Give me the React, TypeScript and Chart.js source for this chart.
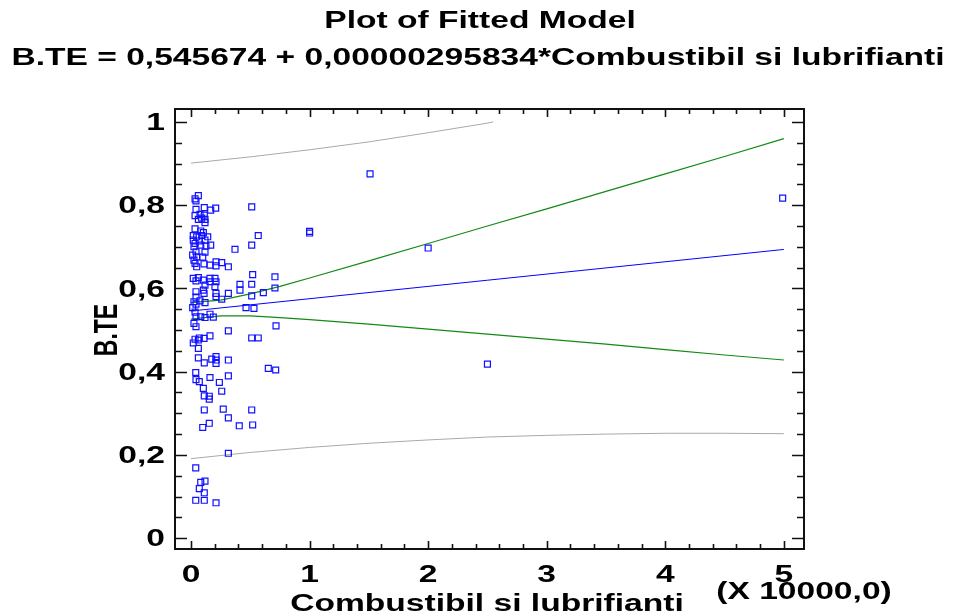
import React, { useEffect, useRef } from 'react';
import { Chart, registerables } from 'chart.js';

Chart.register(...registerables);

const W = 966;
const H = 613;
const FONT = '"Liberation Sans", Arial, sans-serif';
const FS = 23;
const SX = 1.46;

const titleLines = ['Plot of Fitted Model', 'B.TE = 0,545674 + 0,00000295834*Combustibil si lubrifianti'];
const xAxisTitle = 'Combustibil si lubrifianti';
const xAxisNote = '(X 10000,0)';
const yAxisTitle = 'B.TE';

const xTickValues = [0, 1, 2, 3, 4, 5];
const xTickLabels = ['0', '1', '2', '3', '4', '5'];
const yTickValues = [0, 0.2, 0.4, 0.6, 0.8, 1];
const yTickLabels = ['0', '0,2', '0,4', '0,6', '0,8', '1'];
const xMinorTicks = [0.2, 0.4, 0.6, 0.8, 1.2, 1.4, 1.6, 1.8, 2.2, 2.4, 2.6, 2.8, 3.2, 3.4, 3.6, 3.8, 4.2, 4.4, 4.6, 4.8];
const yMinorTicks = [0.05, 0.1, 0.15, 0.25, 0.3, 0.35, 0.45, 0.5, 0.55, 0.65, 0.7, 0.75, 0.85, 0.9, 0.95];

// observations (Combustibil si lubrifianti in units of 10000, B.TE)
const obsX = [
  0.062, 0.034, 0.042, 0.512, 0.042, 0.112, 0.166, 0.208, 0.034, 0.076, 0.112, 0.062, 0.090, 0.118, 0.118,
  0.034, 0.082, 0.104, 0.019, 0.048, 0.090, 0.141, 0.567, 0.019, 0.070, 0.118, 0.034, 0.082, 0.126, 0.166,
  0.512, 0.371, 0.025, 0.042, 0.118, 0.014, 0.048, 0.099, 0.025, 0.034, 0.110, 0.160, 0.211, 0.259, 0.211,
  0.315, 0.048, 0.019, 0.062, 0.042, 0.104, 0.160, 0.202, 0.160, 0.211, 0.413, 0.512, 0.708, 0.118, 0.202,
  0.104, 0.413, 0.042, 0.110, 0.211, 0.315, 0.042, 0.211, 0.259, 0.512, 0.708, 0.025, 0.076, 0.118, 0.042,
  0.014, 0.464, 0.531, 0.034, 0.042, 0.082, 0.118, 0.160, 0.188, 0.025, 0.042, 0.717, 0.315, 0.034, 0.070,
  0.110, 0.160, 0.019, 0.062, 0.512, 0.567, 0.062, 0.062, 0.112, 0.175, 0.211, 0.211, 0.211, 0.315, 0.652,
  0.714, 0.040, 0.042, 0.070, 0.160, 0.239, 0.315, 0.104, 0.259, 0.112, 0.154, 0.154, 0.112, 0.272, 0.512,
  0.315, 0.154, 0.099, 0.407, 0.520, 0.315, 0.040, 0.082, 0.118, 0.070, 0.112, 0.040, 0.112, 0.211, 1.000,
  1.000, 1.510, 2.000, 2.500, 4.990, 0.520, 0.610,
];
const obsY = [
  0.823, 0.815, 0.810, 0.796, 0.790, 0.794, 0.788, 0.793, 0.775, 0.778, 0.776, 0.766, 0.769, 0.766, 0.758,
  0.743, 0.738, 0.734, 0.727, 0.724, 0.727, 0.724, 0.727, 0.716, 0.714, 0.716, 0.708, 0.704, 0.702, 0.704,
  0.704, 0.694, 0.700, 0.688, 0.687, 0.680, 0.676, 0.675, 0.668, 0.660, 0.659, 0.656, 0.664, 0.662, 0.654,
  0.652, 0.652, 0.624, 0.626, 0.618, 0.620, 0.624, 0.624, 0.616, 0.616, 0.610, 0.610, 0.628, 0.608, 0.604,
  0.596, 0.596, 0.592, 0.588, 0.588, 0.588, 0.579, 0.580, 0.574, 0.582, 0.601, 0.568, 0.570, 0.566, 0.562,
  0.554, 0.554, 0.552, 0.543, 0.532, 0.532, 0.530, 0.538, 0.531, 0.516, 0.508, 0.510, 0.498, 0.478, 0.481,
  0.480, 0.486, 0.469, 0.476, 0.481, 0.481, 0.456, 0.433, 0.421, 0.430, 0.436, 0.428, 0.420, 0.428, 0.408,
  0.404, 0.398, 0.381, 0.376, 0.386, 0.374, 0.390, 0.360, 0.353, 0.342, 0.341, 0.334, 0.308, 0.310, 0.308,
  0.289, 0.276, 0.266, 0.270, 0.272, 0.204, 0.169, 0.134, 0.137, 0.119, 0.109, 0.091, 0.091, 0.085, 0.737,
  0.733, 0.875, 0.697, 0.418, 0.817, 0.633, 0.590,
];

// fitted line
const fitX = [0, 5];
const fitY = [0.5457, 0.6936];

// confidence limits for the mean (green)
const confX = [0, 0.25, 0.5, 0.75, 1, 1.5, 2, 2.5, 3, 3.5, 4, 4.5, 5];
const confUpper = [0.566, 0.572, 0.587, 0.605, 0.625, 0.666, 0.708, 0.750, 0.791, 0.833, 0.875, 0.917, 0.960];
const confLower = [0.526, 0.534, 0.534, 0.530, 0.525, 0.514, 0.502, 0.490, 0.478, 0.466, 0.453, 0.440, 0.428];

// prediction limits (gray)
const predUpperX = [0, 0.5, 1, 1.5, 2, 2.5, 2.55];
const predUpperY = [0.901, 0.916, 0.933, 0.952, 0.974, 0.997, 1.0];
const predLowerX = [0, 0.5, 0.75, 1, 1.5, 2, 2.5, 3, 3.5, 4, 4.5, 5];
const predLowerY = [0.191, 0.206, 0.212, 0.218, 0.228, 0.236, 0.243, 0.247, 0.250, 0.252, 0.252, 0.251];

const zip = (xs: number[], ys: number[]) => xs.map((x, i) => ({ x, y: ys[i] }));

function drawText(
  ctx: CanvasRenderingContext2D,
  text: string,
  x: number,
  y: number,
  align: CanvasTextAlign,
  rotate = false,
) {
  ctx.save();
  ctx.font = `bold ${FS}px ${FONT}`;
  ctx.fillStyle = '#000';
  ctx.textAlign = align;
  ctx.textBaseline = 'alphabetic';
  ctx.translate(x, y);
  ctx.scale(SX, 1);
  if (rotate) ctx.rotate(-Math.PI / 2);
  ctx.fillText(text, 0, FS * 0.358);
  ctx.restore();
}

const decorPlugin = {
  id: 'decor',
  afterDraw(chart: any) {
    const ctx: CanvasRenderingContext2D = chart.ctx;
    const { left, right, top, bottom } = chart.chartArea;
    const xs = chart.scales.x;
    const ys = chart.scales.y;

    ctx.save();
    ctx.strokeStyle = '#111';
    ctx.lineWidth = 2;
    ctx.strokeRect(left, top, right - left, bottom - top);

    ctx.lineWidth = 1.6;
    ctx.beginPath();
    const xTick = (v: number, len: number) => {
      const px = Math.round(xs.getPixelForValue(v)) + 0.5;
      ctx.moveTo(px, bottom);
      ctx.lineTo(px, bottom - len);
      ctx.moveTo(px, top);
      ctx.lineTo(px, top + len);
    };
    const yTick = (v: number, len: number) => {
      const py = Math.round(ys.getPixelForValue(v)) + 0.5;
      ctx.moveTo(left, py);
      ctx.lineTo(left + len, py);
      ctx.moveTo(right, py);
      ctx.lineTo(right - len, py);
    };
    xTickValues.forEach((v) => xTick(v, 8));
    xMinorTicks.forEach((v) => xTick(v, 5));
    yTickValues.forEach((v) => yTick(v, 12));
    yMinorTicks.forEach((v) => yTick(v, 7));
    ctx.stroke();
    ctx.restore();

    xTickValues.forEach((v, i) => drawText(ctx, xTickLabels[i], xs.getPixelForValue(v), 574, 'center'));
    yTickValues.forEach((v, i) => drawText(ctx, yTickLabels[i], 165, ys.getPixelForValue(v), 'right'));

    drawText(ctx, titleLines[0], 480, 20, 'center');
    drawText(ctx, titleLines[1], 478, 57, 'center');
    drawText(ctx, xAxisTitle, 487, 603, 'center');
    drawText(ctx, xAxisNote, 804, 591, 'center');
    drawText(ctx, yAxisTitle, 105, 330, 'center', true);
  },
};

export default function App() {
  const ref = useRef<HTMLCanvasElement | null>(null);

  useEffect(() => {
    if (!ref.current) return;
    const chart = new Chart(ref.current, {
      type: 'scatter',
      data: {
        datasets: [
          {
            label: 'B.TE',
            data: zip(obsX, obsY),
            pointStyle: 'rect',
            pointRadius: 4.2,
            pointBorderWidth: 1.2,
            pointBorderColor: '#1010ff',
            pointBackgroundColor: 'rgba(255,255,255,0)',
            showLine: false,
          },
          {
            label: 'fit',
            data: zip(fitX, fitY),
            showLine: true,
            borderColor: '#0000ff',
            borderWidth: 1,
            pointRadius: 0,
          },
          {
            label: 'conf upper',
            data: zip(confX, confUpper),
            showLine: true,
            borderColor: '#138a13',
            borderWidth: 1.2,
            pointRadius: 0,
          },
          {
            label: 'conf lower',
            data: zip(confX, confLower),
            showLine: true,
            borderColor: '#138a13',
            borderWidth: 1.2,
            pointRadius: 0,
          },
          {
            label: 'pred upper',
            data: zip(predUpperX, predUpperY),
            showLine: true,
            borderColor: '#a9a9a9',
            borderWidth: 1,
            pointRadius: 0,
          },
          {
            label: 'pred lower',
            data: zip(predLowerX, predLowerY),
            showLine: true,
            borderColor: '#a9a9a9',
            borderWidth: 1,
            pointRadius: 0,
          },
        ],
      },
      options: {
        animation: false,
        responsive: false,
        devicePixelRatio: 1,
        layout: { padding: { left: 175, right: W - 804, top: 109, bottom: H - 549 } },
        plugins: {
          legend: { display: false },
          tooltip: { enabled: false },
          title: { display: false },
        },
        scales: {
          x: { type: 'linear', min: -0.135, max: 5.17, display: false },
          y: { type: 'linear', min: -0.026, max: 1.031, display: false },
        },
      },
      plugins: [decorPlugin],
    });
    return () => chart.destroy();
  }, []);

  return (
    <div style={{ position: 'fixed', left: 0, top: 0, width: W, height: H, background: '#fff' }}>
      <canvas ref={ref} width={W} height={H} style={{ display: 'block', width: W, height: H }} />
    </div>
  );
}
